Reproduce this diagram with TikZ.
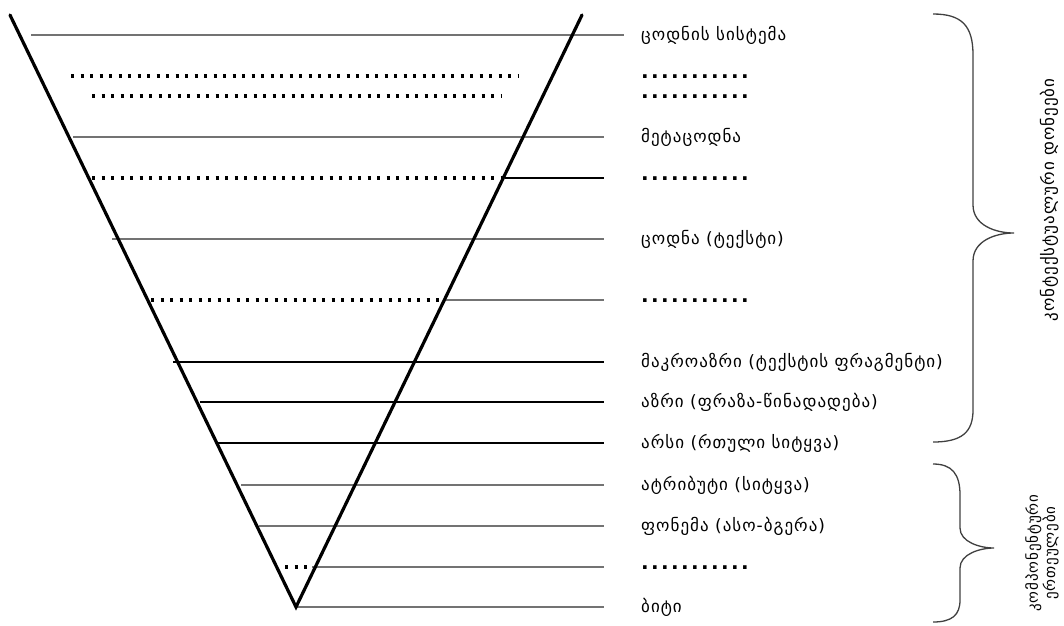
\documentclass[tikz,border=0pt]{standalone}
\usepackage{fontspec}
\setmainfont{DejaVu Sans}
\newfontfamily\geo[LetterSpace=6]{DejaVu Sans}
\newfontfamily\dotsf[LetterSpace=12]{DejaVu Sans}
\begin{document}
\begin{tikzpicture}[x=1pt,y=-1pt,
  vline/.style={line width=3.2pt,line cap=round,line join=miter},
  gline/.style={line width=2.6pt,color=black!55},
  bline/.style={line width=1.4pt,color=black},
  dline/.style={line width=3.2pt,dash pattern=on 3.2pt off 6.3pt,color=black},
  lbl/.style={anchor=west,inner sep=0pt,font=\geo\fontsize{17}{19}\selectfont},
  dotlbl/.style={anchor=base west,inner sep=0pt,font=\dotsf\bfseries\fontsize{20}{22}\selectfont},
  vlbl/.style={rotate=90,inner sep=0pt,align=center,font=\geo\fontsize{17}{17}\selectfont},
  vlbltwo/.style={rotate=90,inner sep=0pt,align=center,font=\geo\fontsize{15}{16}\selectfont},
  bracestyle/.style={line width=1.3pt,color=black!75}]
\useasboundingbox (0,0) rectangle (1064,625);
% V shape
\coordinate (vl) at (10,15);
\coordinate (vb) at (296,607);
\coordinate (vr) at (582,15);
% rows
\node[lbl] (t1) at (641,35) {ცოდნის სისტემა};
\node[dotlbl] (t2) at (641,78) {...........};
\node[dotlbl] (t3) at (641,98) {...........};
\node[lbl] (t4) at (641,137) {მეტაცოდნა};
\node[dotlbl] (t5) at (641,180) {...........};
\node[lbl] (t6) at (641,239) {ცოდნა (ტექსტი)};
\node[dotlbl] (t7) at (641,302) {...........};
\node[lbl] (t8) at (641,362) {მაკროაზრი (ტექსტის ფრაგმენტი)};
\node[lbl] (t9) at (641,402) {აზრი (ფრაზა-წინადადება)};
\node[lbl] (t10) at (641,443) {არსი (რთული სიტყვა)};
\node[lbl] (t11) at (641,485) {ატრიბუტი (სიტყვა)};
\node[lbl] (t12) at (641,526) {ფონემა (ასო-ბგერა)};
\node[dotlbl] (t13) at (641,569) {...........};
\node[lbl] (t14) at (641,607) {ბიტი};
% lines
\draw[gline] (31,35) -- (624,35);
\draw[dline] (71,76) -- (519,76);
\draw[dline] (92,96) -- (501,96);
\draw[gline] (73,137) -- (604,137);
\draw[dline] (92,178) -- (505,178);
\draw[bline] (505,178) -- (604,178);
\draw[gline] (112,239) -- (604,239);
\draw[dline] (151,300) -- (444,300);
\draw[gline] (444,300) -- (604,300);
\draw[bline] (173,362) -- (604,362);
\draw[bline] (200,402) -- (604,402);
\draw[bline] (217,443) -- (604,443);
\draw[gline] (241,485) -- (604,485);
\draw[gline] (259,526) -- (604,526);
\draw[dline] (285,567) -- (312,567);
\draw[gline] (312,567) -- (604,567);
\draw[gline] (vb) -- (604,607);
\draw[vline] (vl) -- (vb) -- (vr);
% braces
\draw[bracestyle] (933,14) .. controls (962,14) and (973,26) .. (973,55) -- (973,205)
  .. controls (973,225) and (995,233) .. (1014,233)
  .. controls (995,233) and (973,241) .. (973,261) -- (973,410)
  .. controls (973,432) and (962,442) .. (933,442);
\draw[bracestyle] (933,464) .. controls (952,464) and (960,474) .. (960,495) -- (960,528)
  .. controls (960,542) and (980,548) .. (994,548)
  .. controls (980,548) and (960,554) .. (960,568) -- (960,600)
  .. controls (960,615) and (952,622) .. (933,622);
\node[vlbl] (c1) at (1049,200) {კონტექსტუალური დონეები};
\node[vlbltwo] (c2) at (1042,553) {კომპონენტური\\ერთეულები};
\end{tikzpicture}
\end{document}
